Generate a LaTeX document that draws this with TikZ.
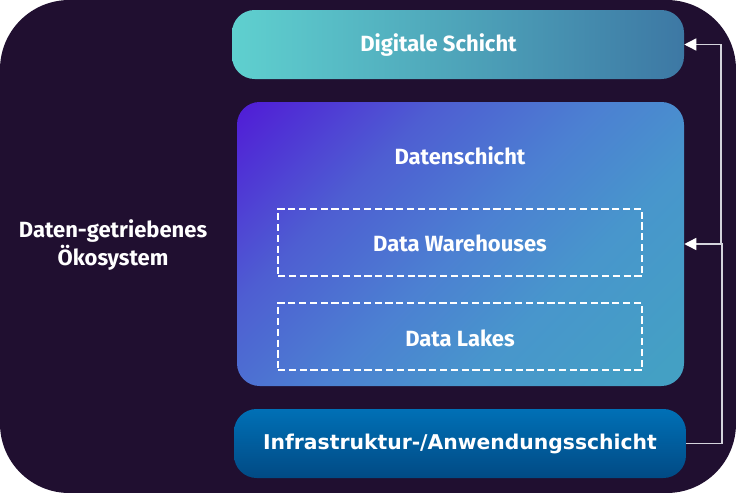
\documentclass[tikz,border=0pt]{standalone}
\usepackage{fontspec}
\setmainfont{Fira Sans}
\newfontfamily\dvfont{DejaVu Sans}
\usetikzlibrary{arrows.meta}
\definecolor{bgc}{HTML}{200F30}
\definecolor{digL}{HTML}{5FD0CF}
\definecolor{digR}{HTML}{3D78A4}
\definecolor{datA}{HTML}{44A0C4}
\definecolor{datB}{HTML}{4896CC}
\definecolor{datC}{HTML}{4C80D2}
\definecolor{datD}{HTML}{4E5ED2}
\definecolor{datE}{HTML}{5020D6}
\definecolor{infT}{HTML}{0070B6}
\definecolor{infB}{HTML}{014A84}
\definecolor{linec}{HTML}{D4D4DC}
\pgfdeclareverticalshading{datshade}{100bp}{color(0bp)=(datA); color(18bp)=(datA); color(36bp)=(datB); color(50bp)=(datC); color(66bp)=(datD); color(84bp)=(datE); color(100bp)=(datE)}
\tikzset{
  layerbox/.style={rounded corners=17pt, inner sep=0pt, text=white},
  lbl/.style={text=white, font=\fontsize{16.5}{21}\selectfont\bfseries, inner sep=0pt},
  dashbox/.style={draw=white, line width=1.6pt, dash pattern=on 5.4pt off 2.7pt, inner sep=0pt,
    minimum width=273pt, minimum height=50.25pt},
  conn/.style={draw=linec, line width=1.1pt},
  tip/.style={-{Triangle[length=9pt,width=9pt,color=white]}}
}
\begin{document}
\begin{tikzpicture}[x=0.75pt,y=-0.75pt]
\useasboundingbox (0,0) rectangle (736,493);
\fill[bgc, rounded corners=52pt] (0,0) rectangle (736,493);
% layers
\node[layerbox, left color=digL, right color=digR, minimum width=339pt, minimum height=51.75pt] (dig) at (458,44.5) {};
\node[layerbox, shading=datshade, shading angle=45, minimum width=335.25pt, minimum height=213pt] (dat) at (460.5,244) {};
\node[layerbox, top color=infT, bottom color=infB, minimum width=339pt, minimum height=51.75pt,
  font=\dvfont\fontsize{15.25}{18}\selectfont\bfseries] (inf) at (460,443.5) {Infrastruktur-/Anwendungsschicht};
\node[dashbox] (dw) at (460,242.5) {};
\node[dashbox] (dl) at (460,336.5) {};
% labels
\node[lbl] (digt) at (438.5,45.5) {Digitale Schicht};
\node[lbl] (datt) at (460,156) {Datenschicht};
\node[lbl] (dwt) at (460,243.5) {Data Warehouses};
\node[lbl] (dlt) at (460,338) {Data Lakes};
\node[lbl, align=center] (eco) at (113,245.5) {Daten-getriebenes\\Ökosystem};
% connectors
\coordinate (j) at (722,244);
\coordinate (j2) at (721,244);
\draw[conn, tip] (inf.east) -| (j) -- (dat.east);
\draw[conn, tip] (j2) |- (dig.east);
\end{tikzpicture}
\end{document}
